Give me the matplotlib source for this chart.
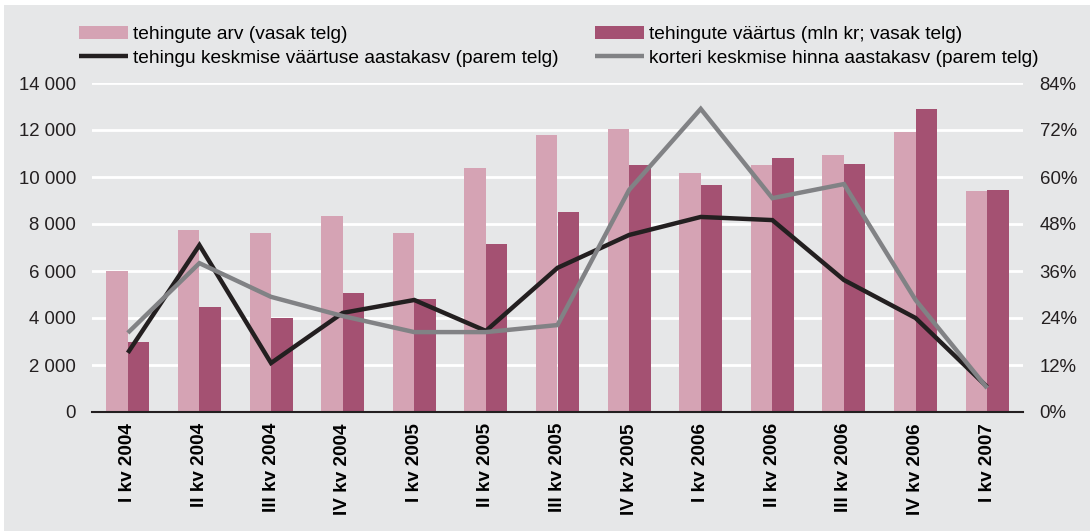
import numpy as np
import matplotlib.pyplot as plt
from matplotlib.patches import Rectangle, Patch
from matplotlib.lines import Line2D
from matplotlib.ticker import FuncFormatter

plt.rcParams["font.family"] = ["Liberation Sans", "DejaVu Sans"]
plt.rcParams["font.size"] = 13.4

quarters = ['I kv 2004', 'II kv 2004', 'III kv 2004', 'IV kv 2004',
            'I kv 2005', 'II kv 2005', 'III kv 2005', 'IV kv 2005',
            'I kv 2006', 'II kv 2006', 'III kv 2006', 'IV kv 2006',
            'I kv 2007']
deal_count = [6000, 7750, 7600, 8350, 7600, 10400, 11800, 12050,
              10150, 10500, 10950, 11900, 9400]
deal_value = [3000, 4450, 4000, 5050, 4800, 7150, 8500, 10500,
              9650, 10800, 10550, 12900, 9450]
avg_value_growth = [15.1, 42.6, 12.5, 25.3, 28.6, 20.7, 36.8, 45.2,
                    49.8, 49.0, 33.7, 24.0, 6.4]
flat_price_growth = [20.2, 38.0, 29.4, 24.5, 20.4, 20.4, 22.2, 56.7,
                     77.4, 54.6, 58.2, 28.6, 6.1]

labels = ['tehingute arv (vasak telg)',
          'tehingute väärtus (mln kr; vasak telg)',
          'tehingu keskmise väärtuse aastakasv (parem telg)',
          'korteri keskmise hinna aastakasv (parem telg)']

bg = '#e6e7e8'
c_light = '#d5a3b4'
c_dark = '#a45172'
c_black = '#231f20'
c_gray = '#818285'

fig = plt.figure(figsize=(10.9, 5.31), dpi=100, facecolor='white')
fig.patches.append(Rectangle((4/1090, 0), 1, 1 - 5/531, transform=fig.transFigure,
                             facecolor=bg, edgecolor='none', zorder=-10))

ax = fig.add_axes([92/1090, 1 - 412/531, (1023 - 92)/1090, (412 - 83)/531])
ax.set_facecolor(bg)
x = np.arange(len(quarters))
w = 0.3
ax.bar(x - w/2, deal_count, width=w, color=c_light, zorder=2)
ax.bar(x + w/2, deal_value, width=w, color=c_dark, zorder=2)
ax.set_xlim(-0.5, len(quarters) - 0.5)
ax.set_ylim(0, 14000)
ax.set_yticks(range(0, 14001, 2000))
ax.yaxis.set_major_formatter(FuncFormatter(lambda v, p: '{:,.0f}'.format(v).replace(',', ' ')))
ax.grid(axis='y', color='white', linewidth=2)
ax.set_axisbelow(True)
ax.set_xticks(x)
ax.set_xticklabels(quarters, rotation=90, fontweight='bold', va='top', ha='center', fontsize=13.6)
ax.tick_params(axis='x', length=0, pad=8)
ax.tick_params(axis='y', length=0, pad=11.5, colors='#231f20')
for s in ['left', 'right', 'top']:
    ax.spines[s].set_visible(False)
ax.spines['bottom'].set_color(c_black)
ax.spines['bottom'].set_linewidth(1.5)
ax.spines['bottom'].set_zorder(5)

ax2 = ax.twinx()
ax2.plot(x, avg_value_growth, color=c_black, linewidth=3.2, solid_joinstyle='miter', solid_capstyle='butt')
ax2.plot(x, flat_price_growth, color=c_gray, linewidth=3.2, solid_joinstyle='miter', solid_capstyle='butt')
ax2.set_ylim(0, 84)
ax2.set_yticks(range(0, 85, 12))
ax2.yaxis.set_major_formatter(FuncFormatter(lambda v, p: '{:.0f}%'.format(v)))
ax2.tick_params(axis='y', length=0, pad=12, colors='#231f20')
for s in ['left', 'right', 'top', 'bottom']:
    ax2.spines[s].set_visible(False)

h_light = Patch(facecolor=c_light, edgecolor='none')
h_dark = Patch(facecolor=c_dark, edgecolor='none')
h_black = Line2D([0], [0], color=c_black, linewidth=3.2, solid_capstyle='butt')
h_gray = Line2D([0], [0], color=c_gray, linewidth=3.2, solid_capstyle='butt')

leg_kw = dict(loc='upper left', frameon=False, borderpad=0, borderaxespad=0,
              handlelength=2.55, handletextpad=0.25, labelspacing=0.3, fontsize=13.8)
fig.legend([h_light, h_black], [labels[0], labels[2]],
           bbox_to_anchor=(79/1090, 1 - 26/531), **leg_kw)
fig.legend([h_dark, h_gray], [labels[1], labels[3]],
           bbox_to_anchor=(595/1090, 1 - 26/531), **leg_kw)

plt.savefig('out.png', dpi=100, facecolor=fig.get_facecolor())
